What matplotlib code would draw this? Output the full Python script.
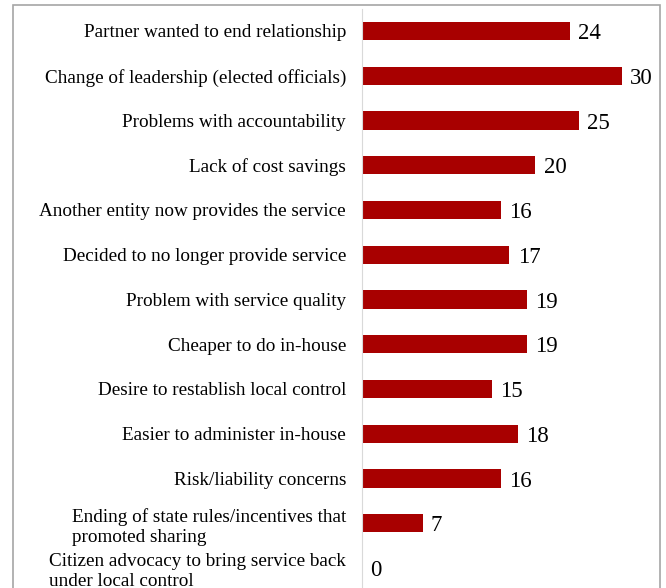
import matplotlib.pyplot as plt
from matplotlib.patches import Rectangle

# reasons for ending a sharing arrangement (top to bottom)
reasons = [
    'Partner wanted to end relationship',
    'Change of leadership (elected officials)',
    'Problems with accountability',
    'Lack of cost savings',
    'Another entity now provides the service',
    'Decided to no longer provide service',
    'Problem with service quality',
    'Cheaper to do in-house',
    'Desire to restablish local control',
    'Easier to administer in-house',
    'Risk/liability concerns',
    'Ending of state rules/incentives that\npromoted sharing',
    'Citizen advocacy to bring service back\nunder local control',
]
counts = [24, 30, 25, 20, 16, 17, 19, 19, 15, 18, 16, 7, 0]

W, H = 666, 588
fig = plt.figure(figsize=(W / 100, H / 100), dpi=100)
plt.rcParams['font.family'] = ['Liberation Serif', 'DejaVu Serif']

# outer frame (bottom runs off the picture)
fig.patches.append(Rectangle((13 / W, -0.1), (660 - 13) / W, 1.1 - 5 / H,
                             transform=fig.transFigure, fill=False,
                             edgecolor='#a6a6a6', linewidth=1.2))

ax = fig.add_axes([362 / W, 0, (650 - 362) / W, 1 - 8.6 / H])
pos = list(range(len(reasons)))
ax.barh(pos, counts, height=0.41, color='#a80000')
ax.set_xlim(0, (650 - 362) / 8.67)
ax.set_ylim(12 + 20 / 44.75, -0.5)

for p, c in zip(pos, counts):
    ax.text(c + 0.95, p + 0.06, str(c), va='center', ha='left', fontsize=16.5)

ax.set_yticks(pos)
ax.set_yticklabels(reasons, fontsize=13.8, multialignment='left', linespacing=1.25)
ax.tick_params(axis='y', length=0, pad=11.5)
ax.set_xticks([])
for s in ['top', 'right', 'bottom']:
    ax.spines[s].set_visible(False)
ax.spines['left'].set_color('#d9d9d9')
ax.patch.set_alpha(0)

fig.savefig('out.png', dpi=100)
